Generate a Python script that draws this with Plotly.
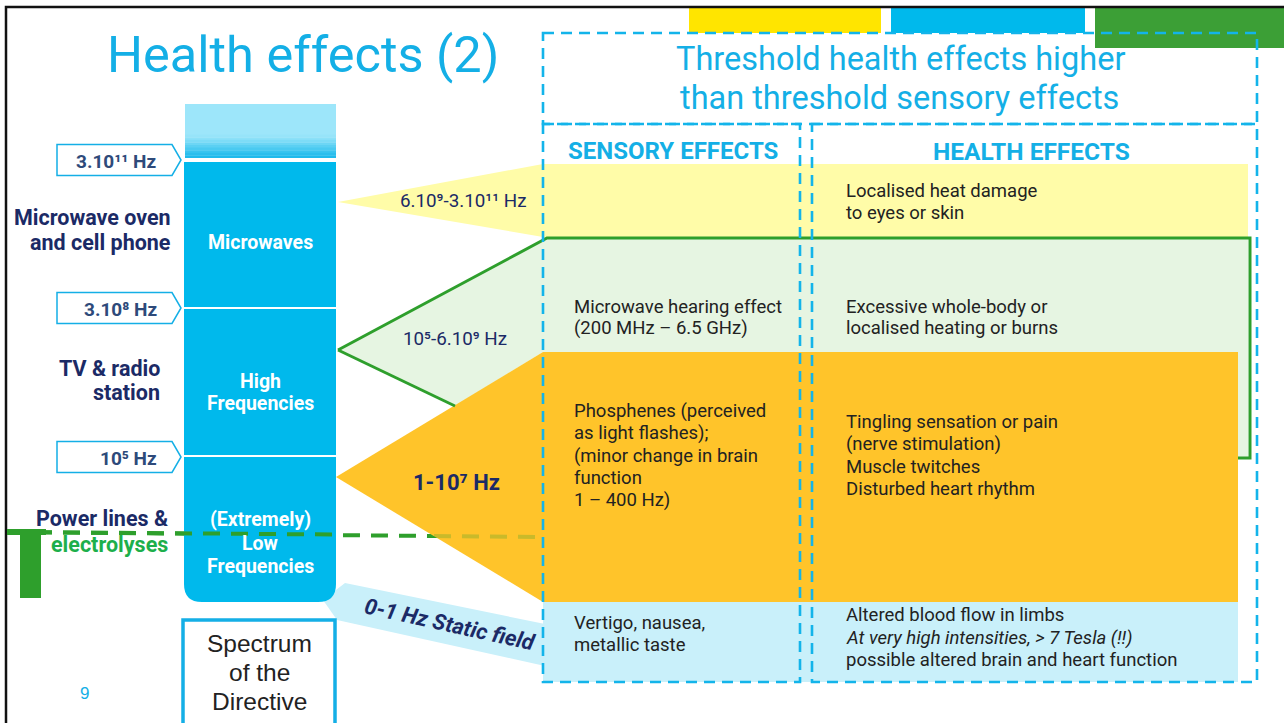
import plotly.graph_objects as go

# ---------------- data (text content of the slide) ----------------
title_text = "Health effects (2)"
header_text = ["Threshold health effects higher", "than threshold sensory effects"]
column_titles = ["SENSORY EFFECTS", "HEALTH EFFECTS"]
band_names = ["Microwaves", "High<br>Frequencies", "(Extremely)<br>Low<br>Frequencies"]
boundary_labels = ["3.10¹¹ Hz", "3.10⁸ Hz", "10⁵ Hz"]
source_labels = ["Microwave oven<br>and cell phone", "TV & radio<br>station", "Power lines &"]
source_label_green = "electrolyses"
range_labels = ["6.10⁹-3.10¹¹ Hz", "10⁵-6.10⁹ Hz",
                "<b>1-10⁷ Hz</b>", "<b><i>0-1 Hz Static field</i></b>"]
sensory_effects = ["",
                   "Microwave hearing effect<br>(200 MHz – 6.5 GHz)",
                   "Phosphenes (perceived<br>as light flashes);<br>(minor change in brain<br>function<br>1 – 400 Hz)",
                   "Vertigo, nausea,<br>metallic taste"]
health_effects = ["Localised heat damage<br>to eyes or skin",
                  "Excessive whole-body or<br>localised heating or burns",
                  "Tingling sensation or pain<br>(nerve stimulation)<br>Muscle twitches<br>Disturbed heart rhythm",
                  "Altered blood flow in limbs<br><i>At very high intensities, > 7 Tesla (!!)</i><br>possible altered brain and heart function"]
spectrum_text = "Spectrum<br>of the<br>Directive"
page_number = "9"

# ---------------- layout constants (pixel geometry) ----------------
W, H = 1284, 723
CYAN = "#00B9EC"
TXT_BLUE = "#14AFE6"
NAVY = "#1B2A66"
SLATE = "#2E4A7A"
GREEN = "#2E9F2C"
DASH_BLUE = "#13B4EA"
YEL = "#FFFCA8"
LGREEN = "#E6F5E2"
ORANGE = "#FFC42A"
LBLUE = "#C9F0FA"
BODY = "Roboto, 'Open Sans', sans-serif"
ARIAL = "'Liberation Sans', Arial, sans-serif"

shapes = []
ann = []


def poly(pts, fill, line_color=None, lw=0):
    d = "M " + " L ".join(f"{x},{y}" for x, y in pts) + " Z"
    shapes.append(dict(type="path", path=d, xref="x", yref="y", fillcolor=fill,
                       line=dict(color=line_color or fill, width=lw), layer="above"))


def rect(x0, y0, x1, y1, fill, line_color=None, lw=0, dash=None):
    ln = dict(color=line_color or fill, width=lw)
    if dash:
        ln["dash"] = dash
    shapes.append(dict(type="rect", x0=x0, y0=y0, x1=x1, y1=y1, xref="x", yref="y",
                       fillcolor=fill, line=ln, layer="above"))


def line(pts, color, lw, dash=None, opacity=1.0):
    d = "M " + " L ".join(f"{x},{y}" for x, y in pts)
    ln = dict(color=color, width=lw)
    if dash:
        ln["dash"] = dash
    shapes.append(dict(type="path", path=d, xref="x", yref="y", line=ln,
                       fillcolor="rgba(0,0,0,0)", layer="above", opacity=opacity))


def text(x, y, s, size, color, family=BODY, xanchor="center", yanchor="middle", angle=0):
    ann.append(dict(x=x, y=y, xref="x", yref="y", text=s, showarrow=False,
                    font=dict(size=size, color=color, family=family),
                    xanchor=xanchor, yanchor=yanchor, align=xanchor,
                    textangle=angle))


def text_lines(x, ys, s, size, color, family=BODY, xanchor="center", bold=False):
    for part, yy in zip(s.split("<br>"), ys):
        t = "<b>" + part + "</b>" if bold else part
        text(x, yy, t, size, color, family=family, xanchor=xanchor)


# frame + top colour tabs
rect(689, 8, 881, 33, "#FFE500")
rect(891, 8, 1085, 33, CYAN)
rect(1095, 8, 1284, 48, "#3C9F36")
line([(6, 723), (6, 7), (1284, 7)], "#111111", 2.5)

# coloured effect bands (wedges + rows)
poly([(338, 202), (543, 164), (543, 237)], YEL)
rect(543, 164, 1248, 238, YEL)
poly([(338, 350), (547, 238), (543, 352), (455, 406)], LGREEN)
rect(543, 238, 1248, 458, LGREEN)
line([(7, 532), (543, 537)], GREEN, 4, dash="17px,11px")
poly([(336, 477), (543, 352), (1238, 352), (1238, 602), (543, 602)], ORANGE)
line([(434, 536), (543, 537)], GREEN, 4, dash="17px,11px", opacity=0.25)
poly([(323, 600), (345, 583), (545, 624), (545, 666), (337, 620)], LBLUE)
rect(543, 602, 1238, 682, LBLUE)

# green outline of high-frequency range
line([(338, 350), (547, 238), (1250, 238), (1250, 458), (1238, 458)], GREEN, 3)
line([(338, 350), (455, 406)], GREEN, 3)

# spectrum column
top_cols = ["#9DE6FA", "#97E4F9", "#8CE1F8", "#7DDCF7", "#6CD6F5", "#5BD0F3",
            "#4ACAF1", "#3AC4EF", "#2CBEED", "#20BAEC"]
rect(185, 104, 336, 132, "#9DE6FA")
for i, c in enumerate(top_cols):
    rect(185, 132 + i * 2.6, 336, 132 + (i + 1) * 2.6 + 0.4 if i < 9 else 158, c)
rect(184, 162, 336, 307, CYAN)
rect(184, 309, 336, 455, CYAN)
shapes.append(dict(type="path", xref="x", yref="y", layer="above",
                   path="M 184,457 L 336,457 L 336,584 Q 336,602 318,602 L 202,602 Q 184,602 184,584 Z",
                   fillcolor=CYAN, line=dict(color=CYAN, width=0)))
line([(7, 532), (336, 534.5)], GREEN, 4, dash="17px,11px")
rect(7, 529, 46, 535, GREEN)
rect(20, 529, 41, 598, GREEN)

# frequency boundary pentagon labels
box_centers = [160, 308, 457]
for yc in box_centers:
    poly([(57, yc - 15.5), (172, yc - 15.5), (181, yc), (172, yc + 15.5), (57, yc + 15.5)],
         "#FFFFFF", TXT_BLUE, 1.5)

# spectrum of directive box
rect(183, 620, 335, 730, "#FFFFFF", TXT_BLUE, 3.5)

# dashed blue boxes
dash = "11px,7px"
rect(543, 33, 1257, 124, "rgba(0,0,0,0)", DASH_BLUE, 2.6, dash)
rect(543, 124, 800, 682, "rgba(0,0,0,0)", DASH_BLUE, 2.6, dash)
rect(812, 124, 1257, 682, "rgba(0,0,0,0)", DASH_BLUE, 2.6, dash)

# ---------------- texts ----------------
text(303, 54, title_text, 50.5, TXT_BLUE)
text(900, 59, header_text[0], 32.5, TXT_BLUE)
text(899, 98, header_text[1], 32.5, TXT_BLUE)
text(673, 151, "<b>" + column_titles[0] + "</b>", 24, TXT_BLUE)
text(1031, 151, "<b>" + column_titles[1] + "</b>", 24.5, TXT_BLUE)

band_line_y = [[242], [381, 403], [519, 543, 566]]
for s, ys in zip(band_names, band_line_y):
    text_lines(260, ys, s, 19.5, "#FFFFFF", bold=True)

for s, yc in zip(boundary_labels, box_centers):
    text(159, yc + 1, "<b>" + s + "</b>", 19, SLATE, xanchor="right")

text_lines(173, [217, 242], source_labels[0], 21.5, NAVY, xanchor="right", bold=True)
text_lines(162, [368, 392], source_labels[1], 21.5, NAVY, xanchor="right", bold=True)
text(170, 518, "<b>" + source_labels[2] + "</b>", 21.5, NAVY, xanchor="right")
text(170, 544, "<b>" + source_label_green + "</b>", 21.5, "#1DAF4B", xanchor="right")

text(463, 201, range_labels[0], 18.8, NAVY)
text(455, 339, range_labels[1], 18.8, NAVY)
text(456, 482, range_labels[2], 22, NAVY)
text(450, 624, range_labels[3], 22, NAVY, angle=12.5)

sens_y = [[], [307, 328], [411, 433, 456, 478, 500], [623, 645]]
health_y = [[191, 213], [307, 328], [422, 444, 467, 489], [615, 638, 660]]
for s, ys in zip(sensory_effects, sens_y):
    if s:
        text_lines(572, ys, s, 18.5, "#222222", xanchor="left")
for s, ys in zip(health_effects, health_y):
    text_lines(844, ys, s, 18.5, "#222222", xanchor="left")

text_lines(259, [643, 672, 701], spectrum_text, 24.5, "#222222", family=ARIAL)
text(84, 693, page_number, 17, TXT_BLUE, family=ARIAL)

fig = go.Figure(go.Scatter(x=[0, W], y=[0, H], mode="markers", marker=dict(opacity=0),
                           hoverinfo="skip", showlegend=False))
fig.update_layout(
    width=W, height=H, margin=dict(l=0, r=0, t=0, b=0), autosize=False,
    paper_bgcolor="#FFFFFF", plot_bgcolor="#FFFFFF",
    xaxis=dict(range=[0, W], visible=False, fixedrange=True),
    yaxis=dict(range=[H, 0], visible=False, fixedrange=True),
    shapes=shapes, annotations=ann, showlegend=False,
)
fig.write_html("out.html", config={"displayModeBar": False},
               post_script="document.body.style.margin='0';")
